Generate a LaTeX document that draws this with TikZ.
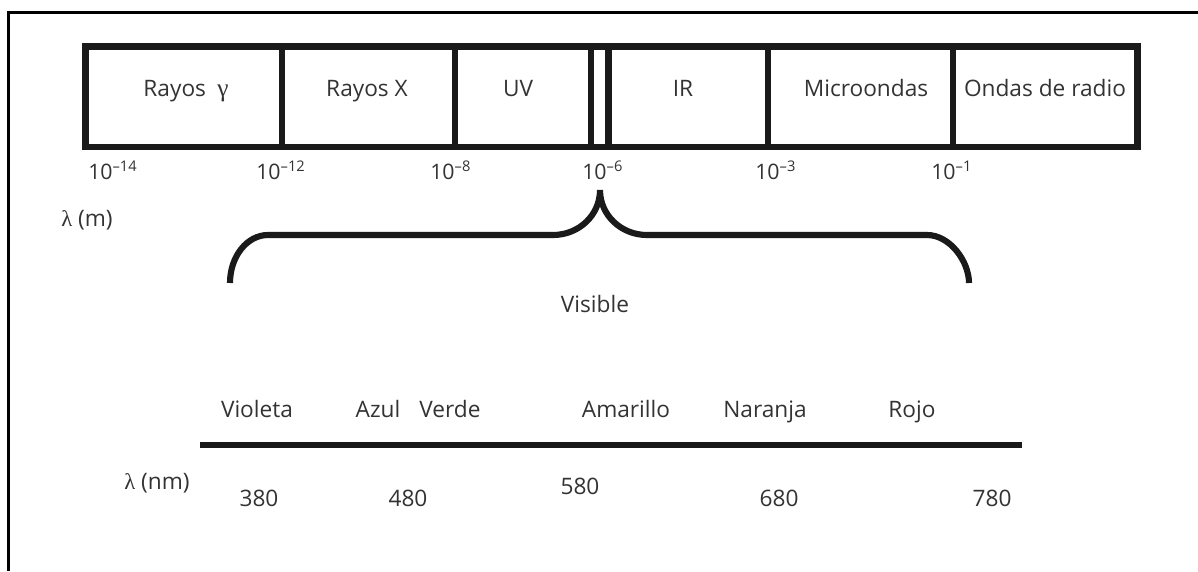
\documentclass[tikz,border=0pt]{standalone}
\usepackage{fontspec}
\setmainfont{Open Sans}
\newfontfamily\gk{Liberation Serif}
\definecolor{txt}{HTML}{333333}
\definecolor{ln}{HTML}{1A1A1A}
\newcommand\tenpow[1]{10\raisebox{6pt}{\fontsize{11}{12}\selectfont –#1}}
\begin{document}
\begin{tikzpicture}[x=0.75pt,y=-0.75pt,
  lbl/.style={font=\fontsize{17}{20}\selectfont, text=txt, inner sep=0pt, anchor=base},
  tick/.style={font=\fontsize{16}{18}\selectfont, text=txt, inner sep=0pt, anchor=base west},
  frame/.style={line width=2.6pt, draw=black},
  bandline/.style={line width=4.9pt, draw=ln},
  brace/.style={line width=4.6pt, draw=ln},
  axisline/.style={line width=4.5pt, draw=ln}]
\useasboundingbox (0,0) rectangle (1198,571);
% outer frame (left and top only)
\draw[frame] (8.5,571) -- (8.5,12.5) -- (1198,12.5);
% band
\draw[bandline] (85.5,46.5) rectangle (1137.5,147);
\foreach \xx in {282,455,591,608.5,768,953}
  \draw[bandline] (\xx,46.5) -- (\xx,147);
\node[lbl] (gam) at (186,96) {Rayos\enspace{\gk\fontsize{19}{20}\selectfont γ}};
\node[lbl] (xr) at (367,96) {Rayos X};
\node[lbl] (uv) at (518,96) {UV};
\node[lbl] (ir) at (683,96) {IR};
\node[lbl] (mw) at (866,96) {Microondas};
\node[lbl] (rad) at (1045,96) {Ondas de radio};
% ticks
\node[tick] (t14) at (88,179) {\tenpow{14}};
\node[tick] (t12) at (256,179) {\tenpow{12}};
\node[tick] (t8) at (430,179) {\tenpow{8}};
\node[tick] (t6) at (582,179) {\tenpow{6}};
\node[tick] (t3) at (755,179) {\tenpow{3}};
\node[tick] (t1) at (931,179) {\tenpow{1}};
\node[lbl, anchor=base west] (lm) at (61,226) {{\gk λ} (m)};
% brace
\coordinate (bL) at (230,283);
\coordinate (bT) at (600,190);
\coordinate (bR) at (969,283);
\draw[brace] (bL) .. controls (230,256.5) and (247,235) .. (268,235)
  -- (553,235) .. controls (579,235) and (600,215) .. (bT)
  .. controls (600,215) and (621,235) .. (647,235)
  -- (927,235) .. controls (950,235) and (969,261.5) .. (bR);
\node[lbl] (vis) at (595,312) {Visible};
% colours
\node[lbl] (vio) at (257,417) {Violeta};
\node[lbl] (azu) at (378,417) {Azul};
\node[lbl] (ver) at (450,417) {Verde};
\node[lbl] (ama) at (626,417) {Amarillo};
\node[lbl] (nar) at (765,417) {Naranja};
\node[lbl] (roj) at (912,417) {Rojo};
\coordinate (sL) at (200,445);
\coordinate (sR) at (1022,445);
\draw[axisline] (sL) -- (sR);
\node[lbl] (lnm) at (157,489) {{\gk λ} (nm)};
\node[lbl] (n380) at (259,506) {380};
\node[lbl] (n480) at (408,506) {480};
\node[lbl] (n580) at (580,494) {580};
\node[lbl] (n680) at (779,506) {680};
\node[lbl] (n780) at (992,506) {780};
\end{tikzpicture}
\end{document}
